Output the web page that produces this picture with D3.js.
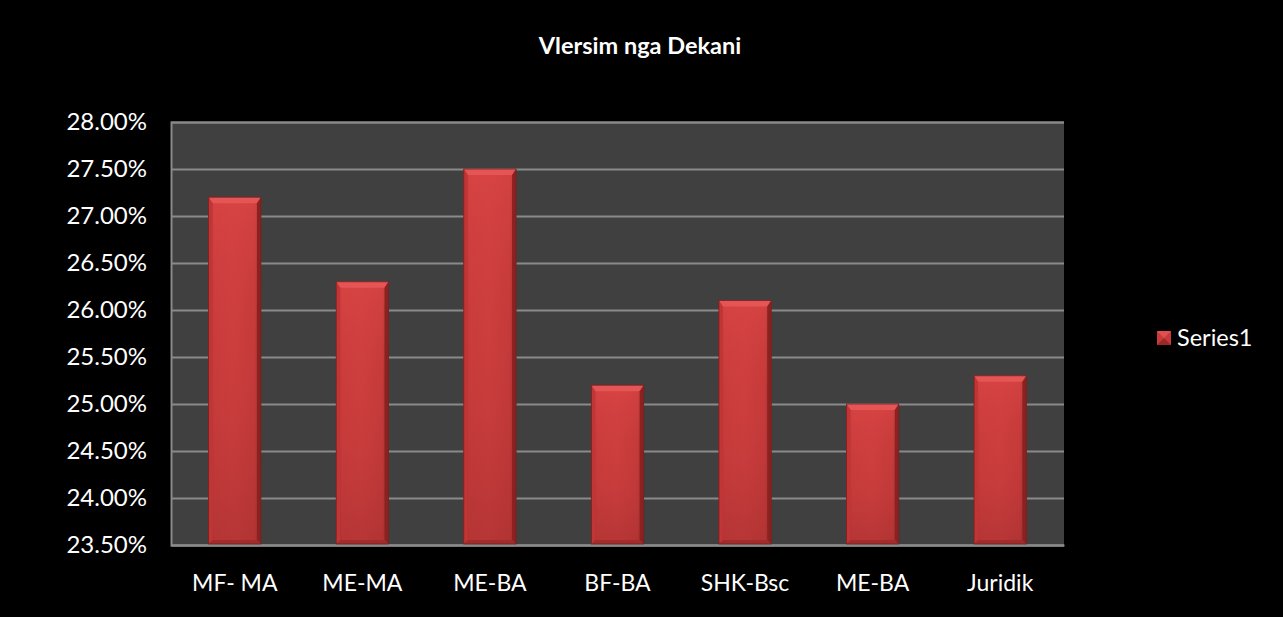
<!DOCTYPE html>
<html><head><meta charset="utf-8">
<script src="https://cdn.jsdelivr.net/npm/d3@7"></script>
<style>html,body{margin:0;padding:0;background:#000;}svg{display:block;}</style>
</head><body>
<script>
const categories = ["MF- MA","ME-MA","ME-BA","BF-BA","SHK-Bsc","ME-BA","Juridik"];
const values = [0.272,0.263,0.275,0.252,0.261,0.250,0.253];
const yTicks = [0.235,0.24,0.245,0.25,0.255,0.26,0.265,0.27,0.275,0.28];
const seriesName = "Series1";
const title = "Vlersim nga Dekani";

const W=1283,H=617;
const m={l:171,r:1064,t:122,b:545};
const font="Lato, 'Open Sans', sans-serif";
const svg=d3.select("body").append("svg").attr("width",W).attr("height",H);
svg.append("rect").attr("width",W).attr("height",H).attr("fill","#000");

const defs=svg.append("defs");
const g1=defs.append("linearGradient").attr("id","body").attr("x1",0).attr("x2",1).attr("y1",0).attr("y2",0);
g1.append("stop").attr("offset","0%").attr("stop-color","#b83232");
g1.append("stop").attr("offset","12%").attr("stop-color","#c93b3b");
g1.append("stop").attr("offset","50%").attr("stop-color","#cc3d3d");
g1.append("stop").attr("offset","88%").attr("stop-color","#c23838");
g1.append("stop").attr("offset","100%").attr("stop-color","#8e2424");
const gv=defs.append("linearGradient").attr("id","vert").attr("x1",0).attr("x2",0).attr("y1",0).attr("y2",1);
gv.append("stop").attr("offset","0%").attr("stop-color","#e04848").attr("stop-opacity",0.6);
gv.append("stop").attr("offset","40%").attr("stop-color","#d04040").attr("stop-opacity",0.2);
gv.append("stop").attr("offset","100%").attr("stop-color","#a02e2e").attr("stop-opacity",0.5);

const x=d3.scaleBand().domain(d3.range(categories.length)).range([m.l,m.r]).paddingInner(0.59).paddingOuter(0.295);
const y=d3.scaleLinear().domain([0.235,0.28]).range([m.b,m.t]);

svg.append("rect").attr("x",m.l).attr("y",m.t).attr("width",m.r-m.l).attr("height",m.b-m.t).attr("fill","#404040");

const yAxis=d3.axisLeft(y).tickValues(yTicks).tickFormat(d3.format(".2%")).tickSize(-(m.r-m.l)).tickPadding(10);
const ya=svg.append("g").attr("transform",`translate(${m.l},0)`).call(yAxis);
ya.select(".domain").attr("stroke","#8a8a8a").attr("stroke-width",2);
ya.selectAll(".tick line").attr("stroke","#8a8a8a").attr("stroke-width",2);
ya.selectAll(".tick text").attr("fill","#fff").attr("font-family",font).attr("font-size",24).attr("x",-24);

const xAxis=d3.axisBottom(x).tickFormat(i=>categories[i]).tickSize(0).tickPadding(30);
const xa=svg.append("g").attr("transform",`translate(0,${m.b})`).call(xAxis);
xa.select(".domain").attr("stroke","#8a8a8a").attr("stroke-width",2);
xa.selectAll(".tick text").attr("fill","#fff").attr("font-family",font).attr("font-size",23).attr("y",30);

const bars=svg.append("g").selectAll("g").data(values).join("g");
bars.each(function(v,i){
  const gg=d3.select(this);
  const x0=x(i), w=x.bandwidth(), y0=y(v), y1=y(0.235)-1;
  const bt=6, bs=4, bb=4;
  gg.append("rect").attr("x",x0).attr("y",y0).attr("width",w).attr("height",y1-y0).attr("fill","url(#body)");
  gg.append("rect").attr("x",x0).attr("y",y0).attr("width",w).attr("height",y1-y0).attr("fill","url(#vert)");
  gg.append("path").attr("d",`M${x0},${y0}L${x0+w},${y0}L${x0+w-bs},${y0+bt}L${x0+bs},${y0+bt}Z`).attr("fill","#e65555");
  gg.append("path").attr("d",`M${x0},${y0}L${x0+bs},${y0+bt}L${x0+bs},${y1-bb}L${x0},${y1}Z`).attr("fill","#c03535");
  gg.append("path").attr("d",`M${x0+w},${y0}L${x0+w-bs},${y0+bt}L${x0+w-bs},${y1-bb}L${x0+w},${y1}Z`).attr("fill","#8a2222");
  gg.append("path").attr("d",`M${x0},${y1}L${x0+bs},${y1-bb}L${x0+w-bs},${y1-bb}L${x0+w},${y1}Z`).attr("fill","#a22b2b");
  gg.append("rect").attr("x",x0).attr("y",y0).attr("width",w).attr("height",y1-y0).attr("fill","none").attr("stroke","#7a1e1e").attr("stroke-width",0.8);
});

svg.append("text").attr("x",640).attr("y",54).attr("text-anchor","middle").attr("fill","#fff")
  .attr("font-family",font).attr("font-weight","bold").attr("font-size",23.5).text(title);

const lg=svg.append("g");
const lx=1157, ly=331, ls=14;
lg.append("rect").attr("x",lx).attr("y",ly).attr("width",ls).attr("height",ls).attr("fill","#c83a3a");
lg.append("path").attr("d",`M${lx},${ly}L${lx+ls},${ly}L${lx+ls/2},${ly+ls/2}Z`).attr("fill","#e05050");
lg.append("path").attr("d",`M${lx},${ly+ls}L${lx+ls},${ly+ls}L${lx+ls/2},${ly+ls/2}Z`).attr("fill","#9a2828");
lg.append("text").attr("x",lx+20).attr("y",ly+ls/2).attr("dy","0.35em").attr("fill","#fff")
  .attr("font-family",font).attr("font-size",23.5).text(seriesName);
</script>
</body></html>
